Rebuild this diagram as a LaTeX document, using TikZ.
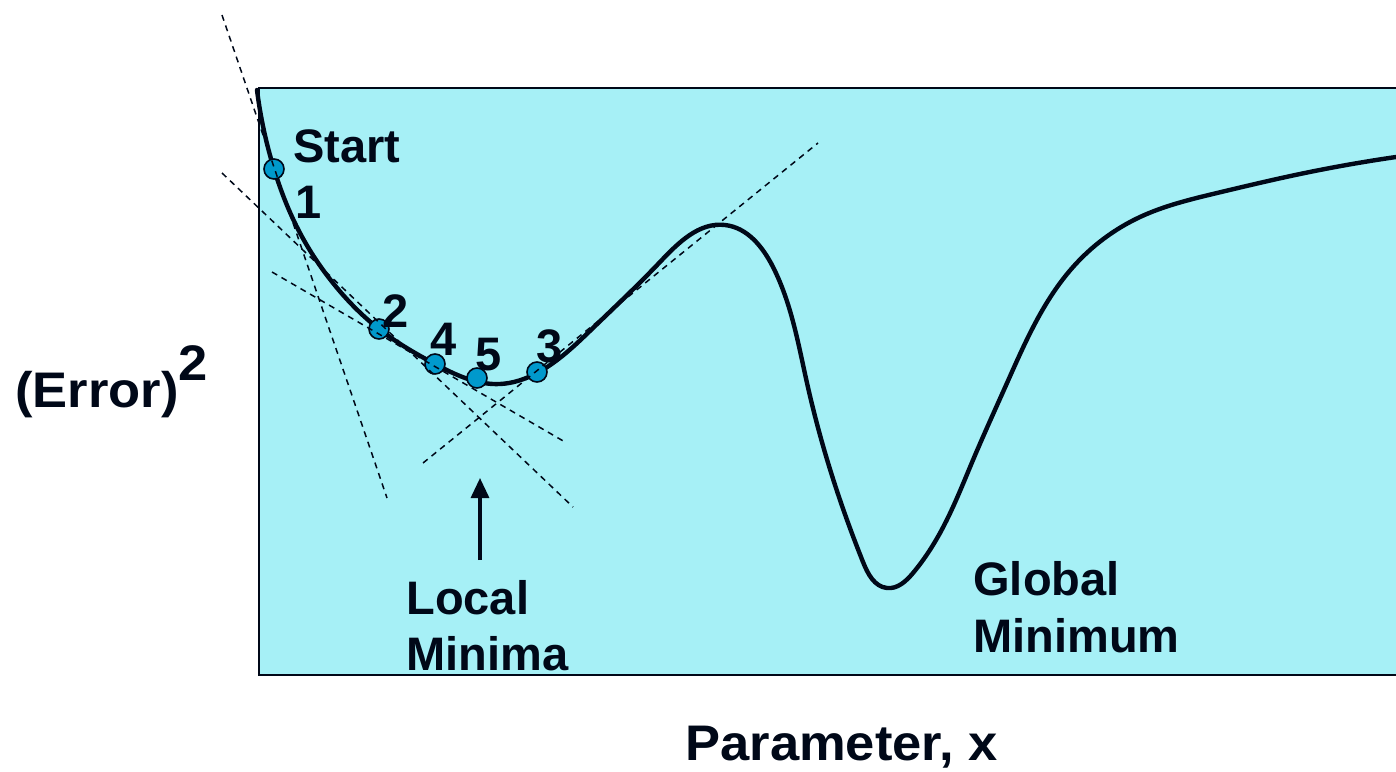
\documentclass[tikz,border=0pt]{standalone}
\usepackage{fontspec}
\setmainfont{Liberation Sans}
\usetikzlibrary{arrows.meta,hobby}
\definecolor{bgcyan}{RGB}{166,240,246}
\definecolor{dotblue}{RGB}{0,153,204}
\definecolor{inkc}{RGB}{0,8,24}
\begin{document}
\begin{tikzpicture}[x=0.5pt,y=-0.5pt,
  lbl/.style={font=\fontsize{23.5}{28}\selectfont\bfseries, text=inkc, inner sep=0pt, anchor=base west},
  axlbl/.style={font=\fontsize{25}{30}\selectfont\bfseries, text=inkc, inner sep=0pt, anchor=base west},
  dot/.style={circle, draw=inkc, line width=0.8pt, fill=dotblue, minimum size=10pt, inner sep=0pt},
  tang/.style={draw=inkc, line width=0.75pt, dash pattern=on 3pt off 2.5pt},
  curve/.style={draw=inkc, line width=2.2pt, line cap=round}]
\useasboundingbox (0,0) rectangle (1396,771);
% panel
\fill[bgcyan] (259,88) rectangle (1396,675);
\draw[inkc, line width=1.2pt] (1396,88) -- (259,88) -- (259,675) -- (1396,675);
% curve
\draw[curve, use Hobby shortcut] (257,90) .. (274,169) .. (300,233) .. (333,283)
 .. (379,329) .. (435,364) .. (500,384) .. (537,373) .. (593,328) .. (660,262)
 .. (725,225) .. (773,267) .. (807,383) .. (840,500) .. (863,562) .. (887,588)
 .. (913,573) .. (940,533) .. (973,460) .. (1007,383) .. (1073,267) .. (1140,217)
 .. (1217,193) .. (1300,174) .. (1396,157);
% points
\node[dot] (p1) at (274,169) {};
\node[dot] (p2) at (379,329) {};
\node[dot] (p4) at (435,364) {};
\node[dot] (p5) at (477,378) {};
\node[dot] (p3) at (537,372) {};
% tangent lines
\coordinate (a1) at (222,15);  \coordinate (b1) at (387,498);
\coordinate (a2) at (222,173); \coordinate (b2) at (573,507);
\coordinate (a3) at (272,272); \coordinate (b3) at (565,442);
\coordinate (a4) at (423,463); \coordinate (b4) at (818,143);
\draw[tang] (a1) -- (b1);
\draw[tang] (a2) -- (b2);
\draw[tang] (a3) -- (b3);
\draw[tang] (a4) -- (b4);
% labels
\node[lbl] (start) at (293,162) {Start};
\node[lbl] (n1) at (295,218) {1};
\node[lbl] (n2) at (382,327) {2};
\node[lbl] (n4) at (430,355) {4};
\node[lbl] (n5) at (475,370) {5};
\node[lbl] (n3) at (536,362) {3};
\node[lbl] (loc1) at (406,614) {Local};
\node[lbl] (loc2) at (406,670) {Minima};
\node[lbl] (glo1) at (973,595) {Global};
\node[lbl] (glo2) at (973,652) {Minimum};
\node[axlbl] (xl) at (685,760) {\scalebox{1.05}[1]{Parameter, x}};
\node[axlbl] (yl) at (15,407) {\scalebox{1.05}[1]{(Error)\raisebox{13.5pt}{2}}};
% arrow
\coordinate (ar0) at (480,560);
\coordinate (ar1) at (480,478);
\draw[inkc, line width=1.6pt, -{Triangle[length=10pt,width=9pt]}] (ar0) -- (ar1);
\end{tikzpicture}
\end{document}
